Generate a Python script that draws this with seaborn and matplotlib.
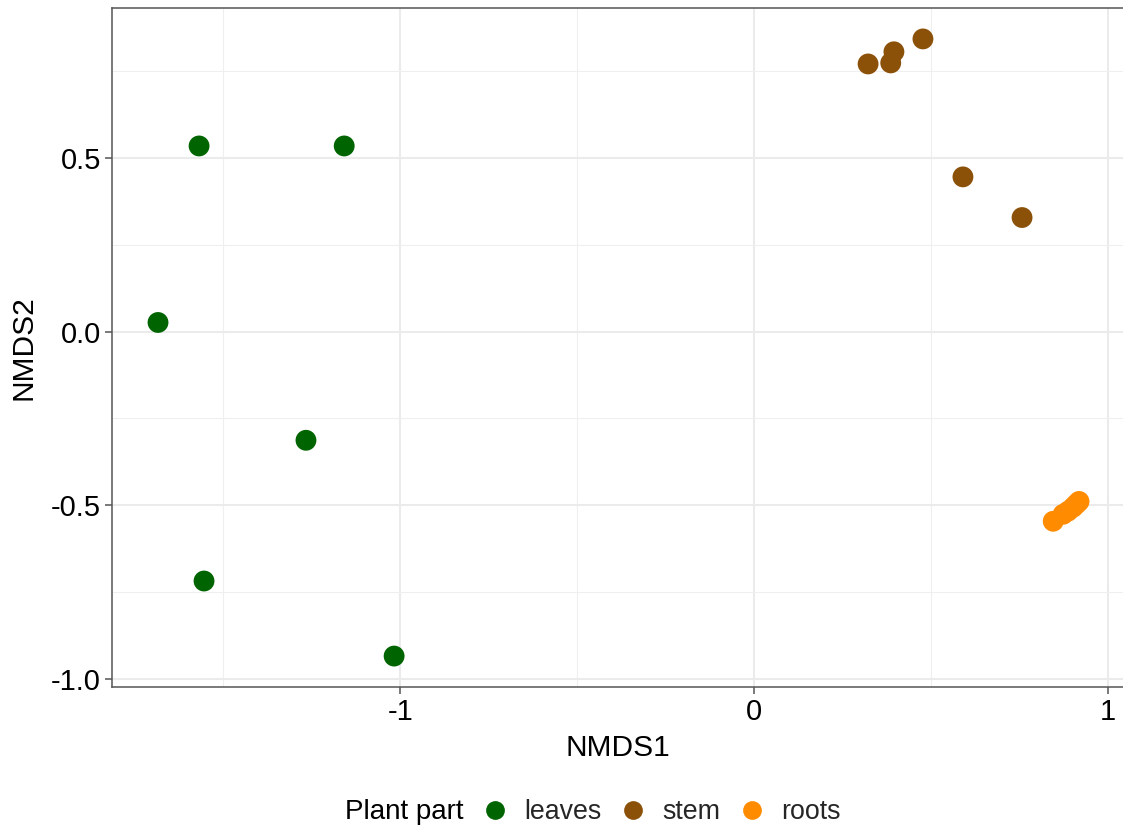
import matplotlib
matplotlib.use("Agg")
import matplotlib.pyplot as plt
import seaborn as sns
import pandas as pd
from matplotlib.lines import Line2D

# ---- data ----
groups = ["leaves", "stem", "roots"]
colors = ["#006400", "#8B5109", "#FF8C00"]

leaves_x = [-1.568, -1.158, -1.684, -1.266, -1.554, -1.017]
leaves_y = [0.534, 0.534, 0.026, -0.313, -0.718, -0.934]
stem_x = [0.322, 0.386, 0.395, 0.477, 0.590, 0.757]
stem_y = [0.770, 0.773, 0.805, 0.842, 0.445, 0.328]
roots_x = [0.845, 0.873, 0.887, 0.901, 0.910, 0.918]
roots_y = [-0.546, -0.526, -0.517, -0.506, -0.497, -0.489]

xticks = [-1, 0, 1]
yticks = [-1.0, -0.5, 0.0, 0.5]
ytick_labels = ["-1.0", "-0.5", "0.0", "0.5"]

df = pd.DataFrame({
    "NMDS1": leaves_x + stem_x + roots_x,
    "NMDS2": leaves_y + stem_y + roots_y,
    "Plant part": ["leaves"] * len(leaves_x) + ["stem"] * len(stem_x) + ["roots"] * len(roots_x),
})

sns.set_theme(style="white")
plt.rcParams["font.family"] = ["Liberation Sans", "DejaVu Sans"]

fig = plt.figure(figsize=(11.23, 8.27), dpi=100)
ax = fig.add_axes([112 / 1123, 1 - 687 / 827, (1124 - 112) / 1123, (687 - 8) / 827])

sns.scatterplot(data=df, x="NMDS1", y="NMDS2", hue="Plant part", hue_order=groups,
                palette=colors, s=225, edgecolor="none", linewidth=0, legend=False,
                ax=ax, zorder=3)

ax.set_xlim(-1.814, 1.045)
ax.set_ylim(-1.023, 0.931)
ax.set_xticks(xticks)
ax.set_xticklabels([str(t) for t in xticks])
ax.set_yticks(yticks)
ax.set_yticklabels(ytick_labels)
ax.set_xticks([-1.5, -0.5, 0.5], minor=True)
ax.set_yticks([-0.75, -0.25, 0.25, 0.75], minor=True)

ax.grid(True, which="major", color="#EBEBEB", linewidth=1.5, zorder=0)
ax.grid(True, which="minor", color="#EFEFEF", linewidth=0.8, zorder=0)
ax.set_axisbelow(True)

for side in ["left", "top", "bottom"]:
    ax.spines[side].set_color("#555555")
    ax.spines[side].set_linewidth(1.1)
ax.spines["right"].set_visible(False)

ax.tick_params(axis="both", which="major", length=5, width=1.1, color="#555555",
               labelsize=21, labelcolor="black", pad=3, direction="out",
               bottom=True, left=True)
ax.tick_params(axis="both", which="minor", length=0)

ax.set_xlabel("NMDS1", fontsize=21.5, color="black", labelpad=6)
ax.set_ylabel("NMDS2", fontsize=21.5, color="black", labelpad=10)

# legend at bottom, title on the left
fig.text(345 / 1123, 1 - 812 / 827, "Plant part", fontsize=20, color="black",
         ha="left", va="center")
handles = [Line2D([0], [0], marker="o", linestyle="none", markersize=13.5,
                  markerfacecolor=c, markeredgecolor="none") for c in colors]
fig.legend(handles, groups, loc="center left", bbox_to_anchor=(479 / 1123, 1 - 812 / 827),
           ncol=3, frameon=False, fontsize=19.3, handletextpad=0.47, columnspacing=0.6,
           borderaxespad=0, borderpad=0, handlelength=1.2)

fig.savefig("out.png", dpi=100)
